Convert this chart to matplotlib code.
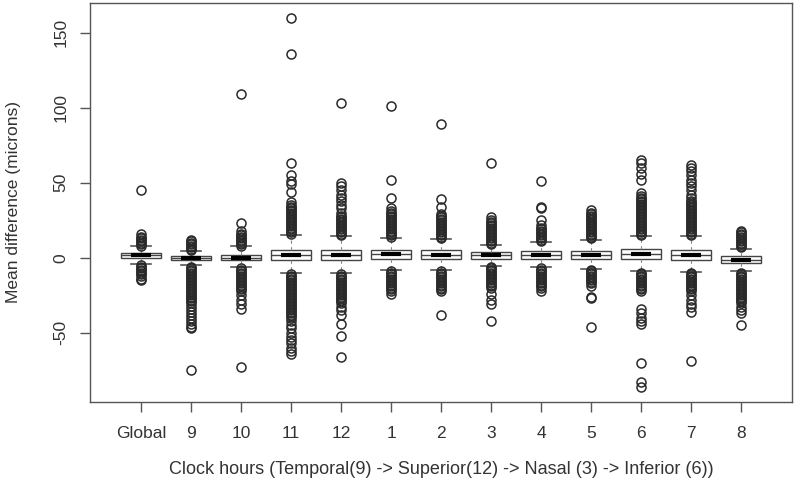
import matplotlib
matplotlib.use("Agg")
import matplotlib.pyplot as plt

plt.rcParams['font.family'] = ['Liberation Sans', 'DejaVu Sans']

# ---------------------------  data  --------------------

groups = ["Global", "9", "10", "11", "12", "1", "2", "3", "4", "5", "6", "7", "8"]

q1 = [0.0, -1.8, -1.8, -1.3, -1.3, -0.9, -0.7, -0.7, -0.7, -0.7, -0.7, -1.3, -3.6]
medians = [1.8, -0.5, 0.0, 1.5, 2.0, 2.2, 2.0, 1.5, 2.0, 2.0, 2.2, 2.0, -1.3]
q3 = [3.3, 1.0, 2.0, 5.3, 5.3, 5.3, 4.9, 3.7, 4.2, 4.4, 5.5, 5.3, 0.9]
whisker_lo = [-4.2, -5.0, -6.0, -10.0, -10.3, -8.0, -8.0, -5.6, -6.2, -7.3, -8.9, -9.6, -8.9]
whisker_hi = [7.5, 4.5, 7.5, 15.0, 14.2, 13.3, 12.7, 8.7, 10.4, 12.0, 14.2, 14.2, 6.0]

outliers = [
    # Global
    [8, 9, 10, 11, 12, 13, 14, 16, 45,
     -5, -6, -7, -8, -9, -10, -11, -12, -14, -15],
    # 9
    [5, 6, 7, 8, 9, 10, 11, 12,
     -6, -7, -8, -9, -10, -11, -12, -13, -14, -15, -16, -17, -18, -19, -20,
     -21, -22, -23, -24, -25, -26, -27, -28, -29, -30,
     -32, -34, -36, -38, -40, -42, -44, -46, -47, -75],
    # 10
    [8, 9, 10, 11, 12, 13, 14, 15, 16, 18, 23, 109,
     -7, -8, -9, -10, -11, -12, -13, -14, -15, -16, -17, -18, -19, -20, -21, -22,
     -25, -28, -31, -34, -73],
    # 11
    [16, 17, 18, 19, 20, 21, 22, 23, 24, 25, 26, 27, 28, 29, 30, 31, 32, 33, 34, 35,
     37, 44, 49, 51, 55, 63, 136, 160,
     -11, -12, -13, -14, -15, -16, -17, -18, -19, -20, -21, -22, -23, -24, -25,
     -26, -27, -28, -29, -30, -31, -32, -33, -34, -35, -36, -37, -38, -39, -40,
     -42, -45, -47, -50, -53, -55, -57, -60, -62, -64],
    # 12
    [15, 16, 17, 18, 19, 20, 21, 22, 23, 24, 25, 26, 27, 28,
     30, 33, 35, 38, 40, 42, 45, 48, 50, 103,
     -11, -12, -13, -14, -15, -16, -17, -18, -19, -20, -21, -22, -23, -24, -25,
     -26, -27, -28, -29, -30, -33, -35, -38, -44, -52, -66],
    # 1
    [14, 15, 16, 17, 18, 19, 20, 21, 22, 23, 24, 25, 26, 27, 28, 29, 30, 31,
     33, 40, 52, 101,
     -9, -10, -11, -12, -13, -14, -15, -16, -17, -18, -19, -20, -21, -22, -24],
    # 2
    [13, 14, 15, 16, 17, 18, 19, 20, 21, 22, 23, 24, 25, 26, 27, 28, 29,
     34, 39, 89,
     -9, -10, -11, -12, -13, -14, -15, -16, -17, -18, -19, -20, -21, -22, -38],
    # 3
    [9, 10, 11, 12, 13, 14, 15, 16, 17, 18, 19, 20, 21, 22, 23, 24, 25, 27, 63,
     -6, -7, -8, -9, -10, -11, -12, -13, -14, -15, -16, -17, -18, -19, -20,
     -24, -28, -31, -42],
    # 4
    [11, 12, 13, 14, 15, 16, 17, 18, 19, 20, 22, 25, 33, 34, 51,
     -7, -8, -9, -10, -11, -12, -13, -14, -15, -16, -17, -18, -19, -20, -22],
    # 5
    [13, 14, 15, 16, 17, 18, 19, 20, 21, 22, 23, 24, 25, 26, 27, 28, 29, 30, 32,
     -8, -9, -10, -11, -12, -13, -14, -15, -16, -17, -19, -26, -27, -46],
    # 6
    [15, 16, 17, 18, 19, 20, 21, 22, 23, 24, 25, 26, 27, 28, 29, 30, 31, 32, 33,
     34, 35, 36, 37, 38, 39, 40, 41, 43, 52, 56, 60, 63, 65,
     -10, -11, -12, -13, -14, -15, -16, -17, -18, -19, -20, -21, -22,
     -34, -37, -40, -42, -44, -70, -83, -86],
    # 7
    [15, 16, 17, 18, 19, 20, 21, 22, 23, 24, 25, 26, 27, 28, 29, 30, 31, 32, 33,
     34, 35, 36, 37, 38, 40, 42, 45, 48, 50, 52, 55, 58, 60, 62,
     -10, -11, -12, -13, -14, -15, -16, -17, -18, -19, -20, -21, -22,
     -25, -28, -31, -33, -36, -69],
    # 8
    [7, 8, 9, 10, 11, 12, 13, 14, 15, 16, 17, 18,
     -10, -11, -12, -13, -14, -15, -16, -17, -18, -19, -20, -21, -22, -23, -24,
     -25, -26, -27, -28, -29, -30, -33, -35, -37, -45],
]

y_ticks = [-50, 0, 50, 100, 150]

# ---------------------------  plot  ------------------------------------------

TEXT = "#333333"
FRAME = "#555555"

stats = []
for i, name in enumerate(groups):
    stats.append(dict(label=name, q1=q1[i], med=medians[i], q3=q3[i],
                      whislo=whisker_lo[i], whishi=whisker_hi[i],
                      fliers=outliers[i]))

positions = list(range(1, len(groups) + 1))

fig = plt.figure(figsize=(8, 4.93), dpi=100)
ax = fig.add_axes([0.1125, 0.1852, 0.8775, 0.8087])

ax.bxp(stats, positions=positions, widths=0.8, capwidths=0.4, patch_artist=True,
       boxprops=dict(facecolor="white", edgecolor="#444444", linewidth=1),
       medianprops=dict(color="#444444", linewidth=1),
       whiskerprops=dict(color="#888888", linewidth=0.8, linestyle=(0, (3, 3))),
       capprops=dict(color="#555555", linewidth=1.2),
       flierprops=dict(marker="o", markerfacecolor="none", markeredgecolor="#2a2a2a",
                       markersize=6.5, markeredgewidth=1.1))

# thick median bar in the middle of each box
ax.hlines(medians, [p - 0.2 for p in positions], [p + 0.2 for p in positions],
          color="black", linewidth=3, zorder=3)

ax.set_xlim(-0.02, 14.02)
ax.set_ylim(-96, 169.8)

ax.set_xticks(positions)
ax.set_xticklabels(groups)
ax.set_yticks(y_ticks)
ax.set_yticklabels([str(v) for v in y_ticks], rotation=90, va="center")

ax.tick_params(axis="both", colors=FRAME, labelcolor=TEXT, labelsize=12.5,
               length=7.5, width=1)
ax.tick_params(axis="x", pad=10)
ax.tick_params(axis="y", pad=8)
for s in ax.spines.values():
    s.set_color(FRAME)
    s.set_linewidth(1)

fig.text(441 / 800, 19 / 493,
         "Clock hours (Temporal(9) -> Superior(12) -> Nasal (3) -> Inferior (6))",
         ha="center", va="baseline", fontsize=13, color=TEXT)
fig.text(13.3 / 800, 0.1852 + 0.8087 / 2, "Mean difference (microns)",
         rotation=90, ha="center", va="center", fontsize=12.5, color=TEXT)

fig.savefig("out.png", dpi=100)
